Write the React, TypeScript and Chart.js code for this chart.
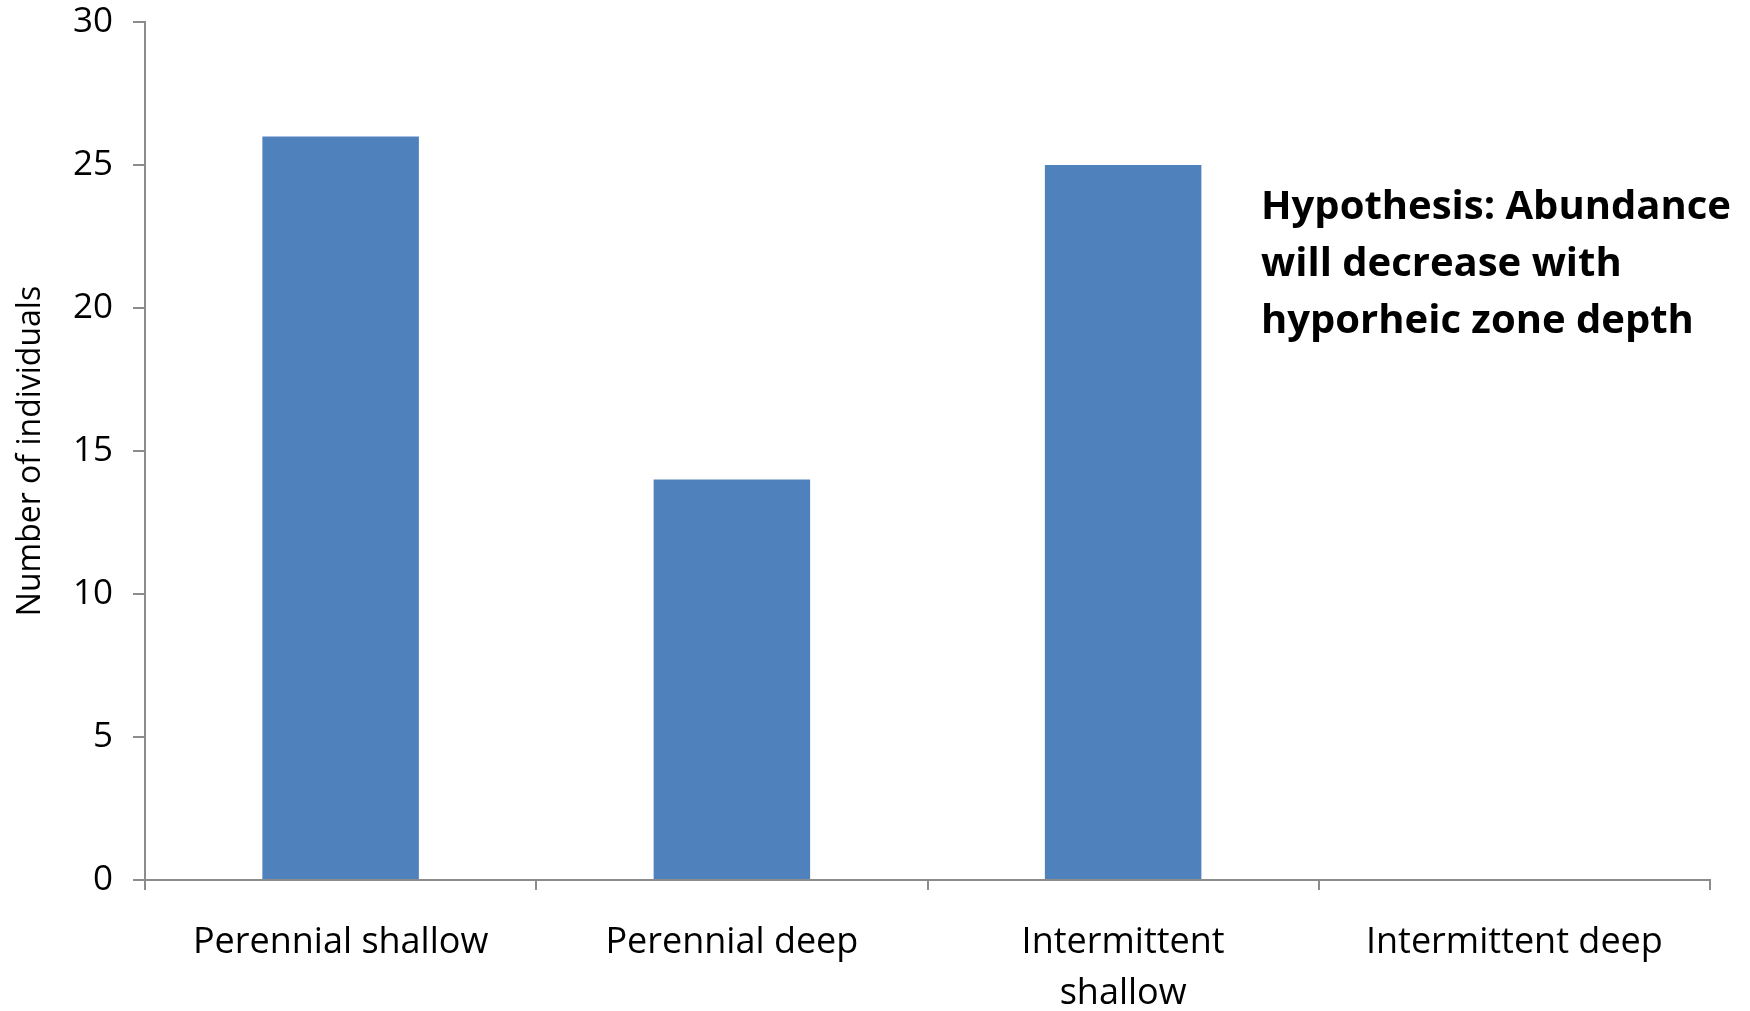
import React, { useEffect, useRef } from "react";
import { Chart, registerables } from "chart.js";

Chart.register(...registerables);

const categories: (string | string[])[] = [
  "Perennial shallow",
  "Perennial deep",
  ["Intermittent", "shallow"],
  "Intermittent deep",
];
const individuals: number[] = [26, 14, 25, 0];
const yTicks: number[] = [0, 5, 10, 15, 20, 25, 30];
const yTitle = "Number of individuals";
const noteLines: string[] = [
  "Hypothesis: Abundance",
  "will decrease with",
  "hyporheic zone depth",
];

const FONT = "'Open Sans', 'Noto Sans', sans-serif";
const AXIS_GRAY = "#8c8c8c";

const notePlugin = {
  id: "notePlugin",
  afterDraw(chart: any) {
    const ctx = chart.ctx;
    ctx.save();
    ctx.fillStyle = "#000000";
    ctx.font = `bold 40px ${FONT}`;
    ctx.textBaseline = "alphabetic";
    ctx.textAlign = "left";
    noteLines.forEach((line, i) => {
      ctx.fillText(line, 1261, 219 + i * 57);
    });
    ctx.restore();
  },
};

export default function App() {
  const canvasRef = useRef<HTMLCanvasElement | null>(null);

  useEffect(() => {
    document.body.style.margin = "0";
    const canvas = canvasRef.current;
    if (!canvas) return;
    const chart = new Chart(canvas, {
      type: "bar",
      data: {
        labels: categories,
        datasets: [
          {
            label: yTitle,
            data: individuals,
            backgroundColor: "#4F81BD",
            borderWidth: 0,
            barPercentage: 0.4,
            categoryPercentage: 1.0,
          },
        ],
      },
      options: {
        animation: false,
        responsive: false,
        maintainAspectRatio: false,
        layout: { padding: { top: 22, right: 40, left: 0, bottom: 0 } },
        plugins: {
          legend: { display: false },
          tooltip: { enabled: false },
        },
        scales: {
          x: {
            afterFit(scale: any) {
              scale.height = 131;
              scale.paddingLeft = 0;
              scale.paddingRight = 0;
            },
            grid: {
              display: true,
              offset: true,
              drawOnChartArea: false,
              drawTicks: true,
              tickLength: 10,
              color: AXIS_GRAY,
              lineWidth: 2,
            },
            border: { display: true, color: AXIS_GRAY, width: 2 },
            ticks: {
              color: "#000000",
              font: { family: FONT, size: 36, lineHeight: 1.4 },
              padding: 28,
              maxRotation: 0,
              autoSkip: false,
            },
          },
          y: {
            min: 0,
            max: 30,
            afterFit(scale: any) {
              scale.width = 145;
              scale.paddingTop = 0;
              scale.paddingBottom = 0;
            },
            afterBuildTicks(scale: any) {
              scale.ticks = yTicks.map((v) => ({ value: v }));
            },
            grid: {
              display: true,
              drawOnChartArea: false,
              drawTicks: true,
              tickLength: 12,
              color: AXIS_GRAY,
              lineWidth: 2,
            },
            border: { display: true, color: AXIS_GRAY, width: 2 },
            ticks: {
              color: "#000000",
              font: { family: FONT, size: 35 },
              padding: 20,
            },
            title: {
              display: true,
              text: yTitle,
              color: "#000000",
              font: { family: FONT, size: 32 },
              padding: { top: 12, bottom: 0 },
            },
          },
        },
      },
      plugins: [notePlugin],
    });
    return () => chart.destroy();
  }, []);

  return (
    <div style={{ position: "absolute", left: 0, top: 0, width: 1750, height: 1011, background: "#ffffff" }}>
      <canvas ref={canvasRef} width={1750} height={1011} style={{ width: 1750, height: 1011 }} />
    </div>
  );
}
